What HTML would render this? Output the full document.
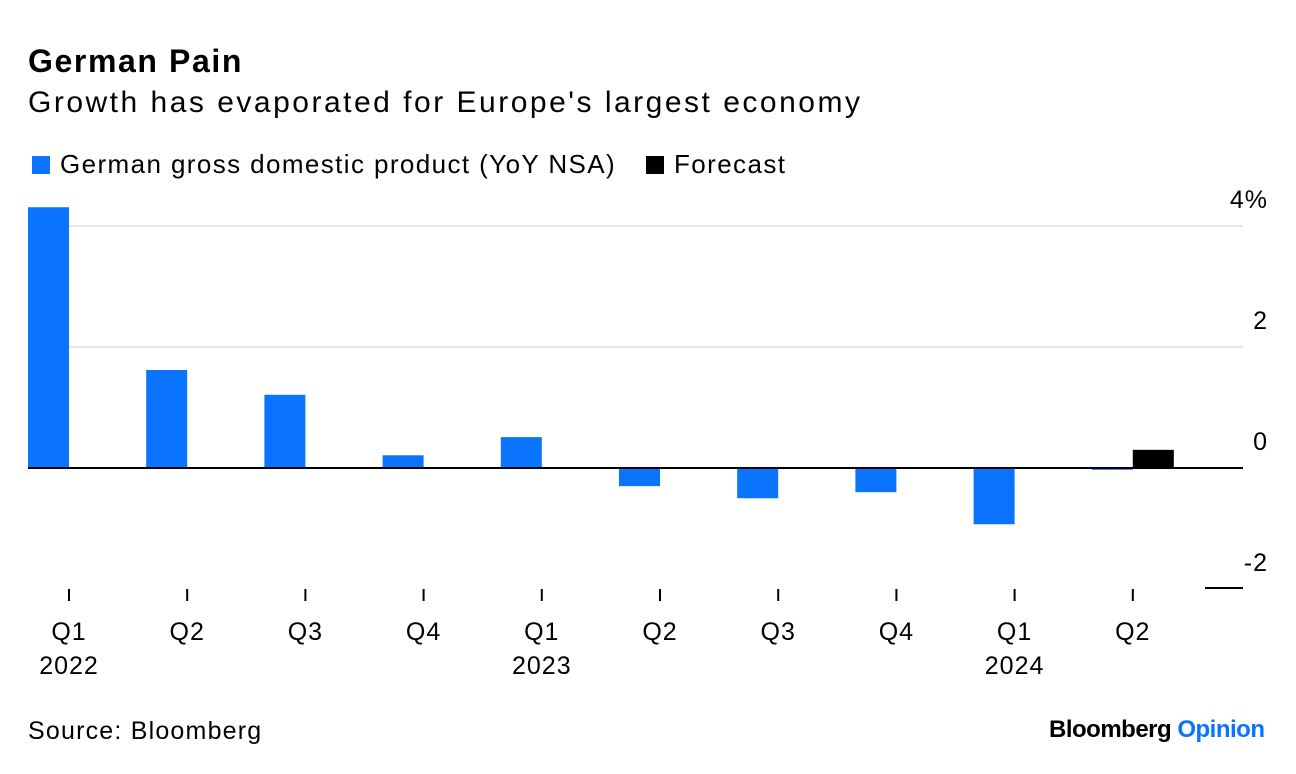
<!DOCTYPE html>
<html><head><meta charset="utf-8"><style>
body{margin:0;background:#fff;font-family:"Liberation Sans",Arial,sans-serif;}
#wrap{position:relative;width:1296px;height:774px;overflow:hidden;}
.t{position:absolute;white-space:nowrap;color:#000;}
</style></head><body>
<div id="wrap">
<div class="t" style="left:28px;top:43px;font-size:32px;font-weight:bold;letter-spacing:1.6px;">German Pain</div>
<div class="t" style="left:28px;top:86px;font-size:30px;letter-spacing:2.5px;">Growth has evaporated for Europe's largest economy</div>
<div class="t" style="left:32px;top:149px;font-size:26px;letter-spacing:1.4px;"><span style="display:inline-block;width:18px;height:18px;background:#0a74ff;margin-right:10px;vertical-align:-1px"></span>German gross domestic product (YoY NSA)</div>
<div class="t" style="left:646px;top:149px;font-size:26px;letter-spacing:1.4px;"><span style="display:inline-block;width:18px;height:18px;background:#000;margin-right:10px;vertical-align:-1px"></span>Forecast</div>
<svg id="svg" width="1296" height="774" style="position:absolute;left:0;top:0"></svg>
<div class="t" style="left:28px;top:717px;font-size:25px;letter-spacing:1.2px;">Source: Bloomberg</div>
<div class="t" style="left:1049px;top:716px;font-size:24px;font-weight:bold;letter-spacing:-0.5px;">Bloomberg <span style="color:#0a74ff">Opinion</span></div>
</div>
<script>
const categories=["Q1","Q2","Q3","Q4","Q1","Q2","Q3","Q4","Q1","Q2"];
const years=["2022","","","","2023","","","","2024",""];
const gdp=[4.31,1.62,1.21,0.21,0.51,-0.30,-0.50,-0.40,-0.93,-0.03];
const forecast=[null,null,null,null,null,null,null,null,null,0.30];
const yTicks=[4,2,0,-2];
const yTickLabels=["4%","2","0","-2"];
const NS="http://www.w3.org/2000/svg";
const svg=document.getElementById('svg');
const y=v=>468-v*60.5;
const tickX=i=>69+i*118.2;
const bw=41;
function mk(tag,attrs){const e=document.createElementNS(NS,tag);for(const k in attrs)e.setAttribute(k,attrs[k]);svg.appendChild(e);return e;}
yTicks.forEach((v,i)=>{
  if(v>0){const g=mk('line',{x1:28,x2:1243,y1:y(v),y2:y(v),stroke:'#e6e6e6','stroke-width':2});
  
  }
  if(v<0){const g=mk('line',{x1:1205,x2:1243,y1:y(v)-1,y2:y(v)-1,stroke:'#000','stroke-width':2});
  
  }
  const t=mk('text',{x:1268,y:y(v)-18,'text-anchor':'end','font-size':25,'letter-spacing':1,'font-family':'Liberation Sans, Arial, sans-serif'});
  t.textContent=yTickLabels[i];
  
  
});
gdp.forEach((v,i)=>{
  const r=mk('rect',{x:tickX(i)-bw,y:Math.min(y(v),y(0)),width:bw,height:Math.max(Math.abs(y(v)-y(0)),1.5),fill:'#0a74ff'});
  
  
});
forecast.forEach((v,i)=>{
  if(v===null)return;
  const r=mk('rect',{x:tickX(i),y:Math.min(y(v),y(0)),width:bw,height:Math.abs(y(v)-y(0)),fill:'#000'});
  
  
});
const z=mk('line',{x1:28,x2:1243,y1:y(0),y2:y(0),stroke:'#000','stroke-width':2});


categories.forEach((c,i)=>{
  const tk=mk('line',{x1:tickX(i),x2:tickX(i),y1:589,y2:601,stroke:'#000','stroke-width':2});
  
  
  const t=mk('text',{x:tickX(i),y:640,'text-anchor':'middle','font-size':25,'letter-spacing':1,'font-family':'Liberation Sans, Arial, sans-serif'});
  t.textContent=c;
  
  
  if(years[i]){const yt=mk('text',{x:tickX(i),y:674,'text-anchor':'middle','font-size':25,'letter-spacing':1,'font-family':'Liberation Sans, Arial, sans-serif'});
  yt.textContent=years[i];
  
  }
});
</script>
</body></html>
